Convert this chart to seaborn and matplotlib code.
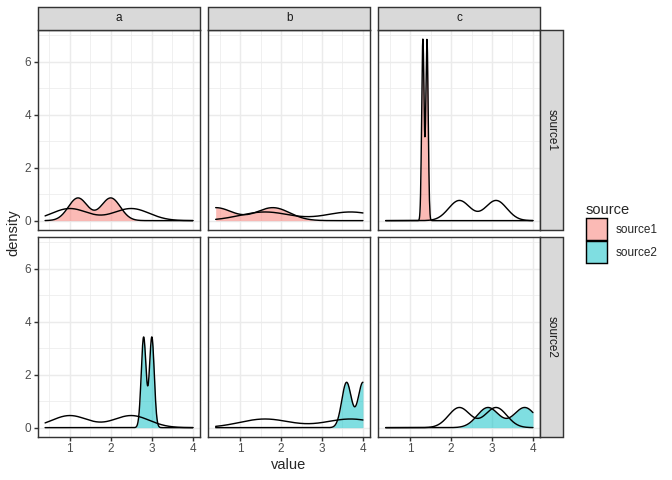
import matplotlib
matplotlib.use("Agg")
import pandas as pd
import matplotlib.pyplot as plt
import seaborn as sns
from matplotlib.colors import to_rgba
from matplotlib.patches import Patch, Rectangle
from matplotlib.ticker import MultipleLocator

groups = ["a", "b", "c"]
sources = ["source1", "source2"]
# two observations per group for each source (filled densities)
source1_values = [[1.2, 2.0], [0.4, 1.8], [1.31, 1.41]]
source2_values = [[2.8, 3.0], [3.6, 4.0], [2.9, 3.8]]
# observations without a source, drawn in both rows (black lines)
reference_values = [[1.0, 2.5], [1.6, 3.7], [2.2, 3.1]]
source_colors = ["#F8766D", "#00BFC4"]

rows = []
for g, v1, v2 in zip(groups, source1_values, source2_values):
    rows += [(g, "source1", x) for x in v1]
    rows += [(g, "source2", x) for x in v2]
df = pd.DataFrame(rows, columns=["group", "source", "value"])
ref = pd.DataFrame([(g, x) for g, v in zip(groups, reference_values) for x in v],
                   columns=["group", "value"])

sns.set_theme(style="white")
plt.rcParams["font.family"] = ["Liberation Sans", "DejaVu Sans"]

W, H = 672, 480
fig = plt.figure(figsize=(W / 96, H / 96), dpi=96)


def box(x0, y0, x1, y1):
    return [x0 / W, 1 - y1 / H, (x1 - x0) / W, (y1 - y0) / H]


col_x = [(37.7, 200.3), (208.3, 370.3), (378.3, 540.3)]
row_y = [(30.0, 229.7), (237.3, 436.7)]

# like ggplot, every density is evaluated over the full x range of the data
lo = min(df.value.min(), ref.value.min())
hi = max(df.value.max(), ref.value.max())
kde_kws = dict(bw_adjust=0.474, cut=1000, clip=(lo, hi), gridsize=512)
lw = 1.07

axes = []
for i, src in enumerate(sources):
    for j, g in enumerate(groups):
        ax = fig.add_axes(box(col_x[j][0], row_y[i][0], col_x[j][1], row_y[i][1]))
        sns.kdeplot(data=ref[ref.group == g], x="value", color="black",
                    linewidth=lw, ax=ax, **kde_kws)
        sub = df[(df.group == g) & (df.source == src)]
        sns.kdeplot(data=sub, x="value", fill=True, color=source_colors[i],
                    alpha=0.5, linewidth=0, ax=ax, **kde_kws)
        sns.kdeplot(data=sub, x="value", color="black", linewidth=lw, ax=ax, **kde_kws)
        ax.set_xlabel("")
        ax.set_ylabel("")
        axes.append((i, j, ax))

ymax = max(line.get_ydata().max() for _, _, ax in axes for line in ax.lines)
pad = 0.05 * (hi - lo)
for i, j, ax in axes:
    ax.set_xlim(lo - pad, hi + pad)
    ax.set_ylim(-0.05 * ymax, 1.05 * ymax)
    ax.xaxis.set_major_locator(MultipleLocator(1))
    ax.xaxis.set_minor_locator(MultipleLocator(0.5))
    ax.yaxis.set_major_locator(MultipleLocator(2))
    ax.yaxis.set_minor_locator(MultipleLocator(1))
    ax.set_axisbelow(True)
    ax.grid(which="major", color="#EBEBEB", linewidth=lw)
    ax.grid(which="minor", color="#EBEBEB", linewidth=lw / 2)
    for s in ax.spines.values():
        s.set_color("#333333")
        s.set_linewidth(lw)
    ax.tick_params(which="major", length=2.75, width=lw, color="#333333",
                   labelsize=8.8, labelcolor="#4D4D4D", pad=2.2,
                   bottom=(i == 1), left=(j == 0),
                   labelbottom=(i == 1), labelleft=(j == 0))
    ax.tick_params(which="minor", length=0)

# facet strips
for j, g in enumerate(groups):
    x0, x1 = col_x[j]
    fig.add_artist(Rectangle((x0 / W, 1 - 30.0 / H), (x1 - x0) / W, 23.3 / H,
                             transform=fig.transFigure, facecolor="#D9D9D9",
                             edgecolor="#333333", linewidth=lw))
    fig.text((x0 + x1) / 2 / W, 1 - 18.3 / H, g, ha="center", va="center",
             fontsize=8.8, color="#1A1A1A")
for i, src in enumerate(sources):
    y0, y1 = row_y[i]
    fig.add_artist(Rectangle((540.3 / W, 1 - y1 / H), 22.7 / W, (y1 - y0) / H,
                             transform=fig.transFigure, facecolor="#D9D9D9",
                             edgecolor="#333333", linewidth=lw))
    fig.text(551.7 / W, 1 - (y0 + y1) / 2 / H, src, ha="center", va="center",
             rotation=-90, fontsize=8.8, color="#1A1A1A")

fig.text(289 / W, 1 - 465 / H, "value", ha="center", va="center", fontsize=11)
fig.text(13 / W, 1 - 233 / H, "density", ha="center", va="center",
         rotation=90, fontsize=11)

handles = [Patch(facecolor=to_rgba(c, 0.5), edgecolor="black", linewidth=lw)
           for c in source_colors]
leg = fig.legend(handles, sources, title="source", loc="center left",
                 bbox_to_anchor=(585.5 / W, 1 - 233 / H), frameon=False,
                 fontsize=8.8, title_fontsize=11, handlelength=1.85,
                 handleheight=2.5, labelspacing=0.12, handletextpad=0.7,
                 borderpad=0, borderaxespad=0, alignment="left")

fig.savefig("out.png", dpi=96)
